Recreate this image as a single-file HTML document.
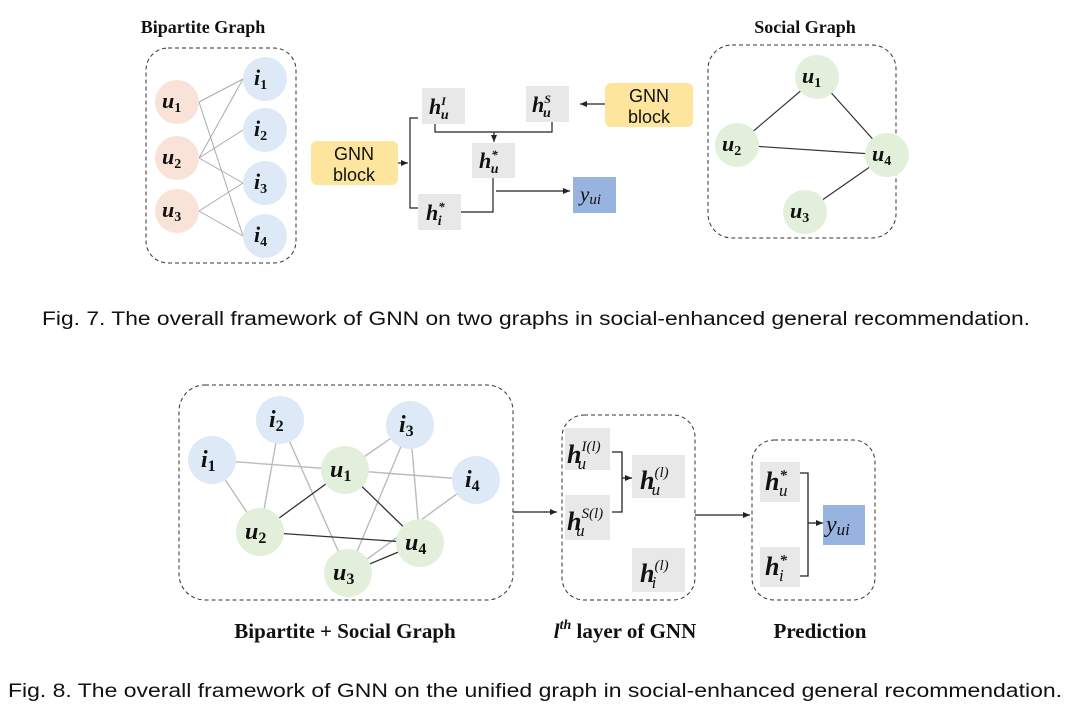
<!DOCTYPE html>
<html><head><meta charset="utf-8"><style>
html,body{margin:0;padding:0;background:#fff;}
svg{display:block;}
.m{font-family:"Liberation Serif",serif;font-style:italic;font-weight:bold;fill:#111;}
.n{font-style:normal;}
.t{font-family:"Liberation Serif",serif;font-weight:bold;fill:#111;}
.s{font-family:"Liberation Sans",sans-serif;fill:#111;}
.cap{font-family:"Liberation Sans",sans-serif;fill:#111;font-size:19px;}
</style></head><body>
<svg width="1080" height="717" viewBox="0 0 1080 717" xmlns="http://www.w3.org/2000/svg">
<defs><marker id="a" markerWidth="8" markerHeight="8" refX="7" refY="4" orient="auto" markerUnits="userSpaceOnUse"><path d="M0,1 L7,4 L0,7z" fill="#222"/></marker></defs>

<!-- FIG 7 -->
<text class="t" x="203" y="33" font-size="18" text-anchor="middle">Bipartite Graph</text>
<rect x="146" y="48" width="150" height="215" rx="22" fill="none" stroke="#333" stroke-dasharray="4,3"/>
<g stroke="#aaa" stroke-width="1">
<line x1="199" y1="102" x2="243" y2="79"/><line x1="199" y1="102" x2="243" y2="236"/>
<line x1="199" y1="158" x2="243" y2="79"/><line x1="199" y1="158" x2="243" y2="130"/><line x1="199" y1="158" x2="243" y2="183"/>
<line x1="199" y1="211" x2="243" y2="183"/><line x1="199" y1="211" x2="243" y2="236"/>
</g>
<g fill="#f9e3d8"><circle cx="177" cy="102" r="22"/><circle cx="177" cy="158" r="22"/><circle cx="177" cy="211" r="22"/></g>
<g fill="#dde9f6"><circle cx="265" cy="79" r="22"/><circle cx="265" cy="130" r="22"/><circle cx="265" cy="183" r="22"/><circle cx="265" cy="236" r="22"/></g>
<g class="m" font-size="22">
<text x="162" y="108">u<tspan class="n" font-size="14" dy="4">1</tspan></text>
<text x="162" y="164">u<tspan class="n" font-size="14" dy="4">2</tspan></text>
<text x="162" y="217">u<tspan class="n" font-size="14" dy="4">3</tspan></text>
<text x="254" y="85">i<tspan class="n" font-size="14" dy="4">1</tspan></text>
<text x="254" y="136">i<tspan class="n" font-size="14" dy="4">2</tspan></text>
<text x="254" y="189">i<tspan class="n" font-size="14" dy="4">3</tspan></text>
<text x="254" y="242">i<tspan class="n" font-size="14" dy="4">4</tspan></text>
</g>
<rect x="311" y="141" width="87" height="44" rx="6" fill="#fde59e"/>
<text class="s" x="354" y="160" font-size="18" text-anchor="middle">GNN</text>
<text class="s" x="354" y="181" font-size="18" text-anchor="middle">block</text>
<rect x="605" y="83" width="88" height="44" rx="6" fill="#fde59e"/>
<text class="s" x="649" y="102" font-size="18" text-anchor="middle">GNN</text>
<text class="s" x="649" y="123" font-size="18" text-anchor="middle">block</text>
<g fill="#e8e8e8"><rect x="422" y="88" width="43" height="36"/><rect x="526" y="86" width="43" height="36"/><rect x="472" y="143" width="43" height="35"/><rect x="418" y="194" width="43" height="36"/></g>
<rect x="573" y="177" width="43" height="36" fill="#98b3e0"/>
<g stroke="#222" stroke-width="1.2" fill="none">
<line x1="398" y1="163" x2="408" y2="163" marker-end="url(#a)"/>
<polyline points="418,118 410,118 410,208 418,208"/>
<polyline points="435,124 435,132 552,132 552,122"/>
<line x1="494" y1="132" x2="494" y2="142" marker-end="url(#a)"/>
<polyline points="461,212 493,212 493,178"/>
<line x1="496" y1="191" x2="570" y2="191" marker-end="url(#a)"/>
<line x1="605" y1="104" x2="580" y2="104" marker-end="url(#a)"/>
</g>
<g class="m" font-size="22">
<text x="429" y="114">h<tspan font-size="12" dy="-9">I</tspan><tspan font-size="14" dx="-5" dy="14">u</tspan></text>
<text x="532" y="112">h<tspan font-size="12" dy="-9">S</tspan><tspan font-size="14" dx="-8" dy="14">u</tspan></text>
<text x="479" y="168">h<tspan font-size="13" dy="-9">*</tspan><tspan font-size="14" dx="-7" dy="14">u</tspan></text>
<text x="426" y="220">h<tspan font-size="13" dy="-9">*</tspan><tspan font-size="14" dx="-7" dy="14">i</tspan></text>
</g>
<text x="580" y="201" font-family="Liberation Serif,serif" font-style="italic" font-size="21" fill="#111">y<tspan font-size="15" dy="3">ui</tspan></text>

<text class="t" x="805" y="33" font-size="18" text-anchor="middle">Social Graph</text>
<rect x="708" y="45" width="188" height="193" rx="24" fill="none" stroke="#333" stroke-dasharray="4,3"/>
<g stroke="#333" stroke-width="1.2">
<line x1="817" y1="77" x2="737" y2="145"/><line x1="817" y1="77" x2="887" y2="155"/>
<line x1="737" y1="145" x2="887" y2="155"/><line x1="805" y1="212" x2="887" y2="155"/>
</g>
<g fill="#e2efda"><circle cx="817" cy="77" r="22"/><circle cx="737" cy="145" r="22"/><circle cx="887" cy="155" r="22"/><circle cx="805" cy="212" r="22"/></g>
<g class="m" font-size="22">
<text x="802" y="83">u<tspan class="n" font-size="14" dy="4">1</tspan></text>
<text x="722" y="151">u<tspan class="n" font-size="14" dy="4">2</tspan></text>
<text x="872" y="161">u<tspan class="n" font-size="14" dy="4">4</tspan></text>
<text x="790" y="218">u<tspan class="n" font-size="14" dy="4">3</tspan></text>
</g>
<text class="cap" x="42" y="325" textLength="988" lengthAdjust="spacingAndGlyphs">Fig. 7.  The overall framework of GNN on two graphs in social-enhanced general recommendation.</text>

<!-- FIG 8 -->
<rect x="179" y="385" width="334" height="215" rx="26" fill="none" stroke="#333" stroke-dasharray="4,3"/>
<g stroke="#bbb" stroke-width="1.4">
<line x1="212" y1="460" x2="345" y2="470"/><line x1="212" y1="460" x2="260" y2="532"/>
<line x1="280" y1="420" x2="260" y2="532"/><line x1="280" y1="420" x2="348" y2="573"/>
<line x1="410" y1="425" x2="345" y2="470"/><line x1="410" y1="425" x2="348" y2="573"/><line x1="410" y1="425" x2="420" y2="543"/>
<line x1="476" y1="480" x2="345" y2="470"/><line x1="476" y1="480" x2="348" y2="573"/>
</g>
<g stroke="#333" stroke-width="1.3">
<line x1="345" y1="470" x2="260" y2="532"/><line x1="345" y1="470" x2="420" y2="543"/>
<line x1="260" y1="532" x2="420" y2="543"/><line x1="348" y1="573" x2="420" y2="543"/>
</g>
<g fill="#dde9f6"><circle cx="212" cy="460" r="24"/><circle cx="280" cy="420" r="24"/><circle cx="410" cy="425" r="24"/><circle cx="476" cy="480" r="24"/></g>
<g fill="#e2efda"><circle cx="345" cy="470" r="24"/><circle cx="260" cy="532" r="24"/><circle cx="420" cy="543" r="24"/><circle cx="348" cy="573" r="24"/></g>
<g class="m" font-size="24">
<text x="201" y="467">i<tspan class="n" font-size="16" dy="4">1</tspan></text>
<text x="269" y="427">i<tspan class="n" font-size="16" dy="4">2</tspan></text>
<text x="399" y="432">i<tspan class="n" font-size="16" dy="4">3</tspan></text>
<text x="465" y="487">i<tspan class="n" font-size="16" dy="4">4</tspan></text>
<text x="330" y="477">u<tspan class="n" font-size="16" dy="4">1</tspan></text>
<text x="245" y="539">u<tspan class="n" font-size="16" dy="4">2</tspan></text>
<text x="405" y="550">u<tspan class="n" font-size="16" dy="4">4</tspan></text>
<text x="333" y="580">u<tspan class="n" font-size="16" dy="4">3</tspan></text>
</g>
<g stroke="#222" stroke-width="1.3" fill="none">
<line x1="513" y1="512" x2="557" y2="512" marker-end="url(#a)"/>
<line x1="695" y1="515" x2="750" y2="515" marker-end="url(#a)"/>
<polyline points="612,452 622,452 622,512 612,512"/>
<line x1="622" y1="478" x2="632" y2="478" marker-end="url(#a)"/>
<polyline points="800,473 808,473 808,576 800,576"/>
<line x1="808" y1="523" x2="823" y2="523" marker-end="url(#a)"/>
</g>
<rect x="562" y="415" width="133" height="185" rx="22" fill="none" stroke="#333" stroke-dasharray="4,3"/>
<rect x="752" y="440" width="123" height="160" rx="22" fill="none" stroke="#333" stroke-dasharray="4,3"/>
<g fill="#e8e8e8"><rect x="565" y="428" width="45" height="42"/><rect x="565" y="495" width="45" height="45"/><rect x="632" y="455" width="53" height="43"/><rect x="632" y="548" width="53" height="44"/><rect x="760" y="462" width="40" height="40"/><rect x="760" y="547" width="40" height="40"/></g>
<rect x="823" y="505" width="42" height="40" fill="#98b3e0"/>
<g class="m" font-size="26">
<text x="567" y="463">h<tspan font-size="15" font-weight="normal" dy="-12">I(l)</tspan><tspan font-size="17" font-weight="normal" dx="-23" dy="18">u</tspan></text>
<text x="567" y="530">h<tspan font-size="15" font-weight="normal" dy="-12">S(l)</tspan><tspan font-size="17" font-weight="normal" dx="-27" dy="18">u</tspan></text>
<text x="640" y="489">h<tspan font-size="15" font-weight="normal" dy="-12">(l)</tspan><tspan font-size="17" font-weight="normal" dx="-17" dy="18">u</tspan></text>
<text x="640" y="582">h<tspan font-size="15" font-weight="normal" dy="-12">(l)</tspan><tspan font-size="17" font-weight="normal" dx="-17" dy="18">i</tspan></text>
<text x="765" y="490">h<tspan font-size="15" dy="-10">*</tspan><tspan font-size="17" font-weight="normal" dx="-8" dy="16">u</tspan></text>
<text x="765" y="575">h<tspan font-size="15" dy="-10">*</tspan><tspan font-size="17" font-weight="normal" dx="-8" dy="16">i</tspan></text>
</g>
<text x="826" y="532" font-family="Liberation Serif,serif" font-style="italic" font-size="24" fill="#111">y<tspan font-size="17" dy="3">ui</tspan></text>
<text class="t" x="345" y="638" font-size="21" text-anchor="middle">Bipartite + Social Graph</text>
<text class="t" x="625" y="638" font-size="21" text-anchor="middle"><tspan font-style="italic">l</tspan><tspan font-style="italic" font-size="14" dy="-9">th</tspan><tspan dy="9"> layer of GNN</tspan></text>
<text class="t" x="820" y="638" font-size="21" text-anchor="middle">Prediction</text>
<text class="cap" x="8" y="697" textLength="1054" lengthAdjust="spacingAndGlyphs">Fig. 8.  The overall framework of GNN on the unified graph in social-enhanced general recommendation.</text>
</svg>
</body></html>
